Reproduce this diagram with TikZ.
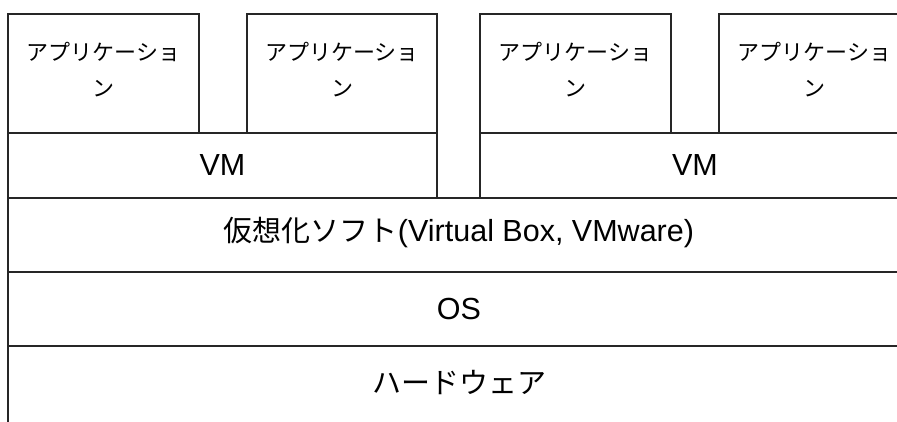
\documentclass[tikz,border=0pt]{standalone}
\usepackage{fontspec}
\setmainfont{Liberation Sans}
\newfontfamily\jp{Noto Sans CJK JP}
\begin{document}
\begin{tikzpicture}[x=1pt,y=-1pt,
  box/.style={draw=black!85, line width=1.4pt, rectangle, anchor=north west, inner sep=0pt, outer sep=0pt},
  apptext/.style={font=\jp\fontsize{22}{36}\selectfont, align=center},
  bigtext/.style={font=\fontsize{30.5}{34}\selectfont},
  jpbig/.style={font=\jp\fontsize{29}{34}\selectfont},
  lbl/.style={inner sep=0pt}]
\clip (0,0) rectangle (897,421);
\useasboundingbox (0,0) rectangle (897,421);
% applications
\node[box, minimum width=191pt, minimum height=119pt] (app1) at (8,14) {};
\node[box, minimum width=190pt, minimum height=119pt] (app2) at (247,14) {};
\node[box, minimum width=191pt, minimum height=119pt] (app3) at (480,14) {};
\node[box, minimum width=191pt, minimum height=119pt] (app4) at (719,14) {};
\foreach \a in {app1,app2,app3,app4}{
  \node[lbl, apptext] (\a t) at ([yshift=4pt]\a.center) {アプリケーショ\\ン};
}
% VMs
\node[box, minimum width=429pt, minimum height=65pt] (vm1) at (8,133) {};
\node[box, minimum width=430pt, minimum height=65pt] (vm2) at (480,133) {};
\node[lbl, bigtext] (vm1t) at (vm1.center) {VM};
\node[lbl, bigtext] (vm2t) at (vm2.center) {VM};
% layers
\node[box, minimum width=902pt, minimum height=74pt] (virt) at (8,198) {};
\node[box, minimum width=902pt, minimum height=74pt] (os) at (8,272) {};
\node[box, minimum width=902pt, minimum height=78pt] (hw) at (8,346) {};
\node[lbl, bigtext] (virtt) at ([yshift=3pt]virt.center) {{\jp\fontsize{29}{34}\selectfont 仮想化ソフト}(Virtual Box, VMware)};
\node[lbl, bigtext] (ost) at (os.center) {OS};
\node[lbl, jpbig] (hwt) at ([yshift=2pt]hw.center) {ハードウェア};
\end{tikzpicture}
\end{document}
